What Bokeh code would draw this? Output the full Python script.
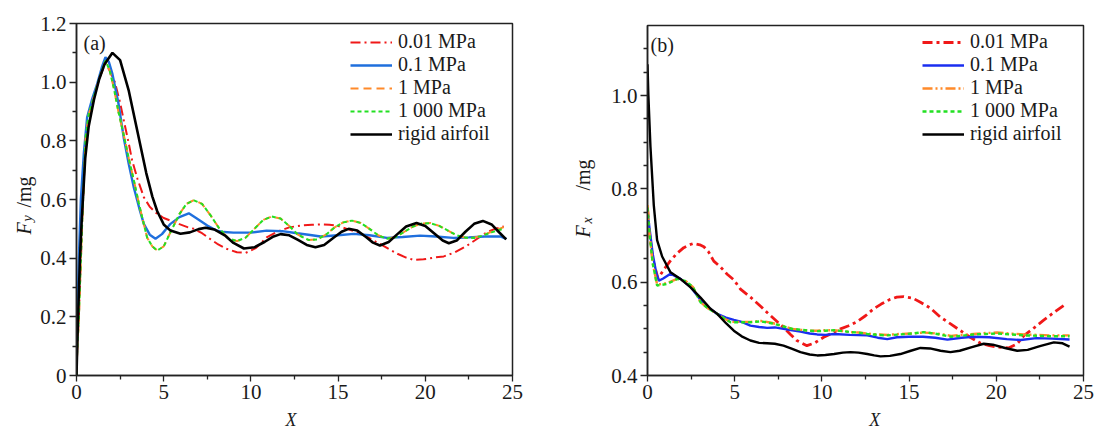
from bokeh.plotting import figure
from bokeh.models import Range1d, FixedTicker, Legend, LegendItem, Label
from bokeh.layouts import row, column
from bokeh.embed import file_html
from bokeh.resources import INLINE

# ---------------- data: panel (a)  F_y / mg ----------------
labels = ["0.01 MPa", "0.1 MPa", "1 MPa", "1 000 MPa", "rigid airfoil"]

a_x_001 = [0, 0.05, 0.13, 0.33, 0.52, 0.7, 0.9, 1.09, 1.35, 1.65, 1.9, 2.2, 2.5, 2.71, 3.0, 3.19, 3.5, 3.86, 4.2, 4.63,
           5.0, 5.39, 5.9, 6.4, 6.73, 7.2, 7.6, 8.07, 8.6, 9.2, 9.7, 10.3, 10.93, 11.5, 12.2, 12.84, 13.5, 14.0, 14.5,
           15.0, 15.5, 16.0, 16.6, 17.2, 17.8, 18.4, 18.9, 19.34, 19.9, 20.5, 21.06, 21.7, 22.4, 23.0, 23.55, 24.0, 24.5]
a_y_001 = [0, 0.1, 0.19, 0.53, 0.81, 0.89, 0.93, 0.97, 1.02, 1.063, 1.04, 1.0, 0.93, 0.87, 0.79, 0.733, 0.67, 0.608,
           0.575, 0.551, 0.537, 0.528, 0.516, 0.505, 0.5, 0.485, 0.468, 0.449, 0.432, 0.42, 0.418, 0.435, 0.472, 0.49,
           0.505, 0.511, 0.514, 0.515, 0.514, 0.51, 0.5, 0.49, 0.475, 0.455, 0.435, 0.415, 0.402, 0.394, 0.396, 0.402,
           0.406, 0.42, 0.443, 0.467, 0.489, 0.5, 0.508]

a_x_01 = [0, 0.05, 0.13, 0.25, 0.42, 0.61, 0.9, 1.19, 1.45, 1.66, 1.85, 2.05, 2.4, 2.71, 3.0, 3.29, 3.6, 3.86, 4.2, 4.53,
          4.9, 5.39, 5.9, 6.44, 6.9, 7.5, 8.0, 8.45, 9.0, 10.0, 10.9, 11.8, 12.65, 13.3, 14.0, 15.0, 15.9, 16.8, 17.8,
          18.7, 19.7, 20.6, 21.6, 22.5, 23.4, 24.3, 24.64]
a_y_01 = [0, 0.2, 0.39, 0.6, 0.757, 0.88, 0.943, 0.995, 1.05, 1.085, 1.07, 1.03, 0.93, 0.81, 0.72, 0.64, 0.57, 0.517,
          0.48, 0.466, 0.482, 0.517, 0.54, 0.553, 0.535, 0.511, 0.495, 0.489, 0.487, 0.487, 0.494, 0.492, 0.485, 0.48,
          0.474, 0.478, 0.483, 0.478, 0.469, 0.472, 0.477, 0.474, 0.469, 0.471, 0.474, 0.474, 0.466]

a_x_1 = [0, 0.05, 0.13, 0.33, 0.52, 0.7, 0.9, 1.09, 1.35, 1.66, 1.9, 2.14, 2.4, 2.71, 3.0, 3.29, 3.6, 4.05, 4.35, 4.63,
         5.0, 5.4, 5.9, 6.3, 6.73, 7.2, 7.7, 8.2, 8.7, 9.2, 9.7, 10.2, 10.7, 11.2, 11.7, 12.2, 12.7, 13.3, 13.8, 14.3,
         14.8, 15.3, 15.8, 16.3, 16.8, 17.3, 17.8, 18.3, 18.8, 19.3, 19.8, 20.3, 20.8, 21.3, 21.8, 22.3, 22.8, 23.3,
         23.8, 24.5]
a_y_1 = [0, 0.1, 0.19, 0.53, 0.81, 0.89, 0.93, 0.97, 1.02, 1.072, 1.04, 0.98, 0.9, 0.82, 0.74, 0.665, 0.58, 0.47, 0.44,
         0.426, 0.44, 0.49, 0.55, 0.585, 0.598, 0.585, 0.545, 0.5, 0.468, 0.458, 0.47, 0.5, 0.53, 0.542, 0.535, 0.51,
         0.48, 0.462, 0.464, 0.48, 0.505, 0.522, 0.528, 0.52, 0.5, 0.478, 0.466, 0.472, 0.49, 0.508, 0.518, 0.52, 0.51,
         0.494, 0.478, 0.47, 0.47, 0.478, 0.49, 0.506]

a_x_1000 = [0, 0.05, 0.13, 0.33, 0.52, 0.7, 0.9, 1.09, 1.35, 1.66, 1.9, 2.14, 2.4, 2.71, 3.0, 3.29, 3.6, 4.05, 4.35, 4.63,
            5.0, 5.4, 5.9, 6.3, 6.73, 7.2, 7.7, 8.2, 8.7, 9.2, 9.7, 10.2, 10.7, 11.2, 11.7, 12.2, 12.7, 13.3, 13.8, 14.3,
            14.8, 15.3, 15.8, 16.3, 16.8, 17.3, 17.8, 18.3, 18.8, 19.3, 19.8, 20.3, 20.8, 21.3, 21.8, 22.3, 22.8, 23.3,
            23.8, 24.47]
a_y_1000 = [0, 0.1, 0.19, 0.53, 0.81, 0.89, 0.93, 0.97, 1.02, 1.074, 1.04, 0.98, 0.9, 0.82, 0.74, 0.665, 0.58, 0.47,
            0.44, 0.426, 0.44, 0.49, 0.55, 0.585, 0.597, 0.585, 0.545, 0.5, 0.468, 0.458, 0.47, 0.5, 0.53, 0.542, 0.535,
            0.51, 0.48, 0.462, 0.464, 0.48, 0.505, 0.522, 0.528, 0.52, 0.5, 0.478, 0.466, 0.472, 0.49, 0.508, 0.518,
            0.519, 0.51, 0.494, 0.478, 0.47, 0.469, 0.477, 0.488, 0.5]

a_x_rigid = [0, 0.05, 0.1, 0.2, 0.3, 0.5, 0.7, 1.0, 1.3, 1.6, 2.06, 2.5, 3.0, 3.5, 4.0, 4.35, 4.63, 5.0, 5.39, 5.96,
             6.5, 7.0, 7.4, 7.9, 8.5, 9.0, 9.6, 10.2, 10.8, 11.3, 11.7, 12.2, 12.7, 13.2, 13.7, 14.2, 14.7, 15.2, 15.6,
             16.1, 16.6, 17.0, 17.4, 17.9, 18.4, 18.9, 19.5, 20.0, 20.5, 21.0, 21.35, 21.8, 22.3, 22.8, 23.3, 23.8,
             24.2, 24.64]
a_y_rigid = [0, 0.12, 0.22, 0.4, 0.53, 0.74, 0.85, 0.94, 1.01, 1.06, 1.10, 1.075, 0.97, 0.83, 0.69, 0.61, 0.56, 0.515,
             0.494, 0.483, 0.488, 0.499, 0.504, 0.498, 0.478, 0.452, 0.433, 0.437, 0.456, 0.474, 0.482, 0.478, 0.462,
             0.445, 0.437, 0.445, 0.468, 0.49, 0.5, 0.494, 0.472, 0.453, 0.443, 0.455, 0.482, 0.508, 0.52, 0.51, 0.485,
             0.46, 0.451, 0.46, 0.49, 0.517, 0.527, 0.515, 0.49, 0.464]

# ---------------- data: panel (b)  F_x / mg ----------------
b_x_001 = [0, 0.1, 0.3, 0.6, 0.9, 1.32, 1.7, 2.08, 2.4, 2.65, 3.0, 3.23, 3.5, 3.8, 4.2, 4.57, 4.95, 5.33, 5.9, 6.5,
           6.86, 7.3, 7.8, 8.2, 8.56, 9.14, 9.6, 10.1, 10.6, 11.07, 11.5, 12.0, 12.5, 12.97, 13.4, 13.9, 14.3, 14.7,
           15.2, 15.65, 16.2, 16.8, 17.4, 17.95, 18.5, 19.1, 19.6, 20.05, 20.7, 21.2, 21.6, 22.1, 22.7, 23.3, 23.97]
b_y_001 = [0.76, 0.71, 0.65, 0.608, 0.625, 0.646, 0.662, 0.674, 0.68, 0.683, 0.68, 0.676, 0.665, 0.645, 0.632, 0.617,
           0.605, 0.585, 0.568, 0.548, 0.535, 0.52, 0.503, 0.488, 0.475, 0.464, 0.47, 0.482, 0.491, 0.5, 0.506, 0.515,
           0.528, 0.543, 0.553, 0.563, 0.568, 0.569, 0.566, 0.557, 0.545, 0.525, 0.51, 0.496, 0.482, 0.469, 0.464,
           0.461, 0.459, 0.468, 0.486, 0.5, 0.518, 0.535, 0.553]

b_x_01 = [0, 0.1, 0.3, 0.5, 0.65, 0.9, 1.32, 1.89, 2.47, 3.04, 3.5, 4.0, 4.5, 4.95, 5.4, 5.9, 6.4, 6.86, 7.3, 7.8, 8.3,
          8.77, 9.3, 9.73, 10.2, 10.7, 11.6, 12.6, 13.2, 13.75, 14.3, 15.0, 15.8, 16.5, 17.2, 18.0, 18.7, 19.6, 20.6,
          21.4, 22.3, 23.2, 24.2]
b_y_01 = [0.75, 0.72, 0.66, 0.62, 0.603, 0.608, 0.618, 0.607, 0.59, 0.562, 0.545, 0.532, 0.524, 0.519, 0.515, 0.507,
          0.504, 0.502, 0.503, 0.5, 0.497, 0.494, 0.49, 0.488, 0.487, 0.489, 0.487, 0.486, 0.481, 0.478, 0.482, 0.483,
          0.483, 0.481, 0.477, 0.481, 0.483, 0.482, 0.478, 0.476, 0.48, 0.479, 0.477]

b_x_1 = [0, 0.1, 0.3, 0.55, 0.8, 1.13, 1.7, 2.2, 2.6, 3.04, 3.5, 4.0, 4.4, 4.76, 5.3, 5.9, 6.5, 7.1, 7.8, 8.3, 8.77,
         9.3, 9.73, 10.2, 10.7, 11.2, 11.64, 12.1, 12.6, 13.2, 13.75, 14.5, 15.2, 15.84, 16.6, 17.4, 18.0, 18.7, 19.4,
         20.05, 20.8, 21.6, 22.4, 23.1, 24.2]
b_y_1 = [0.765, 0.71, 0.64, 0.595, 0.596, 0.598, 0.607, 0.602, 0.59, 0.557, 0.543, 0.532, 0.522, 0.515, 0.515, 0.515,
         0.517, 0.513, 0.506, 0.5, 0.498, 0.496, 0.496, 0.497, 0.497, 0.495, 0.493, 0.492, 0.49, 0.488, 0.487, 0.489,
         0.49, 0.492, 0.49, 0.485, 0.487, 0.489, 0.491, 0.492, 0.49, 0.488, 0.487, 0.486, 0.486]

b_x_1000 = [0, 0.1, 0.3, 0.55, 0.8, 1.13, 1.7, 2.2, 2.6, 3.04, 3.5, 4.0, 4.4, 4.76, 5.3, 5.9, 6.5, 7.1, 7.8, 8.3, 8.77,
            9.3, 9.73, 10.2, 10.7, 11.2, 11.64, 12.1, 12.6, 13.2, 13.75, 14.5, 15.2, 15.84, 16.6, 17.4, 18.0, 18.7,
            19.4, 20.05, 20.8, 21.6, 22.4, 23.1, 24.2]
b_y_1000 = [0.76, 0.71, 0.64, 0.593, 0.594, 0.596, 0.607, 0.602, 0.59, 0.557, 0.543, 0.532, 0.522, 0.514, 0.514, 0.514,
            0.516, 0.512, 0.505, 0.5, 0.498, 0.496, 0.495, 0.496, 0.497, 0.495, 0.493, 0.492, 0.489, 0.487, 0.486,
            0.488, 0.49, 0.493, 0.489, 0.483, 0.485, 0.488, 0.489, 0.49, 0.488, 0.486, 0.485, 0.484, 0.484]

b_x_rigid = [0, 0.05, 0.17, 0.36, 0.55, 0.84, 1.32, 1.89, 2.47, 3.04, 3.61, 4.0, 4.5, 4.95, 5.4, 5.9, 6.4, 6.86, 7.3,
             7.8, 8.3, 8.77, 9.3, 9.73, 10.2, 10.7, 11.2, 11.64, 12.1, 12.6, 13.0, 13.36, 13.9, 14.5, 15.1, 15.65, 16.2,
             16.8, 17.37, 17.9, 18.6, 19.28, 19.8, 20.5, 21.2, 21.8, 22.5, 23.3, 23.8, 24.2]
b_y_rigid = [1.067, 1.0, 0.89, 0.765, 0.69, 0.655, 0.621, 0.607, 0.589, 0.567, 0.543, 0.532, 0.512, 0.496, 0.484,
             0.475, 0.47, 0.469, 0.468, 0.464, 0.457, 0.45, 0.445, 0.443, 0.444, 0.446, 0.449, 0.45, 0.449, 0.446,
             0.443, 0.441, 0.442, 0.446, 0.453, 0.459, 0.458, 0.453, 0.45, 0.453, 0.461, 0.468, 0.466, 0.459, 0.453,
             0.455, 0.463, 0.471, 0.469, 0.462]

a_yticks = [0, 0.2, 0.4, 0.6, 0.8, 1.0, 1.2]
b_yticks = [0.4, 0.6, 0.8, 1.0]
x_ticks = [0, 5, 10, 15, 20, 25]

# ---------------- styling / layout ----------------
SERIF = "Liberation Serif"
TXT = "#1a1a1a"
RED, ORANGE, GREEN, BLACK = "#f01818", "#ff8a2a", "#22e022", "#000000"
BLUE_A, BLUE_B = "#1f6fdd", "#1a2ef0"

H_MAIN, H_XLAB = 408, 22           # plot strip + x-label strip (total 430)
YA_W, YB_W = 37, 55                # y-label strips
PA_W, PB_W = 508, 495              # 37 + 508 + 55 + 495 = 1095
SH = 6                             # label baseline correction (px)


def make_fig(width, l, r, t, b, y0, y1, yticks, yminor):
    p = figure(width=width, height=H_MAIN, output_backend="svg", toolbar_location=None,
               x_range=Range1d(0, 25), y_range=Range1d(y0, y1),
               min_border_left=l, min_border_right=r, min_border_top=t, min_border_bottom=b)
    p.xgrid.visible = False
    p.ygrid.visible = False
    p.outline_line_color = "#222222"
    p.outline_line_width = 1.5
    p.background_fill_color = "white"
    p.border_fill_color = "white"
    p.xaxis.ticker = FixedTicker(ticks=x_ticks, minor_ticks=[2.5 + 5 * i for i in range(5)])
    p.yaxis.ticker = FixedTicker(ticks=yticks, minor_ticks=yminor)
    for ax in (p.xaxis[0], p.yaxis[0]):
        ax.axis_line_color = "#222222"
        ax.axis_line_width = 1.5
        ax.major_tick_line_color = "#222222"
        ax.minor_tick_line_color = "#222222"
        ax.major_tick_line_width = 1.3
        ax.minor_tick_line_width = 1.3
        ax.major_tick_in = 0
        ax.major_tick_out = 7
        ax.minor_tick_in = 0
        ax.minor_tick_out = 4
        ax.major_label_text_font = SERIF
        ax.major_label_text_font_size = "21px"
        ax.major_label_text_color = TXT
    p.xaxis.major_tick_out = 6
    p.xaxis.major_label_standoff = 3
    p.yaxis.major_label_standoff = 3
    return p


def strip(width, height, x0, x1, ytop, ybot):
    # blank figure whose data space equals page pixels; holds the axis titles as text
    s = figure(width=width, height=height, output_backend="svg", toolbar_location=None,
               x_range=Range1d(x0, x1), y_range=Range1d(ybot, ytop),
               x_axis_location=None, y_axis_location=None, min_border=0)
    s.xgrid.visible = False
    s.ygrid.visible = False
    s.outline_line_color = None
    s.background_fill_color = "white"
    s.border_fill_color = "white"
    return s


def add_text(p, x, y, text, size="20px", style="normal", angle=0, align="left", baseline="alphabetic"):
    p.add_layout(Label(x=x, y=y, text=text, text_font=SERIF, text_font_size=size, text_font_style=style,
                       angle=angle, text_align=align, text_baseline=baseline, text_color=TXT))


# frames: (a) x 76..512, y 23..375 ; (b) x 647..1083, y 25..375
pa = make_fig(PA_W, 76 - YA_W, 33, 23, H_MAIN - 375, 0, 1.2, a_yticks, [0.1, 0.3, 0.5, 0.7, 0.9, 1.1])
pa.yaxis.major_label_overrides = {0: "0", 0.2: "0.2", 0.4: "0.4", 0.6: "0.6", 0.8: "0.8", 1.0: "1.0", 1.2: "1.2"}
pb = make_fig(PB_W, 647 - (YA_W + PA_W + YB_W), 12, 25, H_MAIN - 375, 0.4, 1.15, b_yticks,
              [0.45, 0.5, 0.55, 0.65, 0.7, 0.75, 0.85, 0.9, 0.95, 1.05, 1.1])
pb.yaxis.major_label_overrides = {0.4: "0.4", 0.6: "0.6", 0.8: "0.8", 1.0: "1.0"}

ra = [
    pa.line(a_x_001, a_y_001, line_color=RED, line_width=2, line_dash="10 4 2 4"),
    pa.line(a_x_01, a_y_01, line_color=BLUE_A, line_width=2.4),
    pa.line(a_x_1, a_y_1, line_color=ORANGE, line_width=2, line_dash="8 5"),
    pa.line(a_x_1000, a_y_1000, line_color=GREEN, line_width=2, line_dash="4 3"),
    pa.line(a_x_rigid, a_y_rigid, line_color=BLACK, line_width=2.6),
]
rb = [
    pb.line(b_x_001, b_y_001, line_color=RED, line_width=2.8, line_dash="10 4 3 4"),
    pb.line(b_x_01, b_y_01, line_color=BLUE_B, line_width=2.4),
    pb.line(b_x_1, b_y_1, line_color=ORANGE, line_width=2.4, line_dash="10 3 2 3 2 3"),
    pb.line(b_x_1000, b_y_1000, line_color=GREEN, line_width=2.4, line_dash="4 3"),
    pb.line(b_x_rigid, b_y_rigid, line_color=BLACK, line_width=2.4),
]

for p, rends, loc in ((pa, ra, (274, 230)), (pb, rb, (275, 230))):
    leg = Legend(items=[LegendItem(label=lab, renderers=[r]) for lab, r in zip(labels, rends)],
                 location=loc, padding=0, margin=0, spacing=0,
                 border_line_color=None, background_fill_alpha=0,
                 glyph_width=42, glyph_height=22, label_height=22, label_standoff=6,
                 label_text_font=SERIF, label_text_font_size="20px", label_text_color=TXT)
    p.add_layout(leg)

# panel tags
add_text(pa, (83 - 76) / 436 * 25, (375 - (48 - SH)) / 352 * 1.2, "(a)")
add_text(pb, (650 - 647) / 436 * 25, 0.4 + (375 - (50 - SH)) / 350 * 0.75, "(b)")

# y-label strips (data = page pixels)
ANG = 1.5707963
x_off_b = YA_W + PA_W
ya = strip(YA_W, 430, 0, YA_W, 0, 430)
add_text(ya, 29 - SH, 234, "F", style="italic", angle=ANG)
add_text(ya, 27, 221, "y", size="14px", style="italic", angle=ANG)
add_text(ya, 29 - SH, 207, "/mg", angle=ANG)

yb = strip(YB_W, 430, x_off_b, x_off_b + YB_W, 0, 430)
add_text(yb, 588 - SH, 237, "F", style="italic", angle=ANG)
add_text(yb, 587, 223, "x", size="14px", style="italic", angle=ANG)
add_text(yb, 588 - SH, 190, "/mg", angle=ANG)

# x-label strips
xa = strip(PA_W, H_XLAB, YA_W, YA_W + PA_W, H_MAIN, 430)
add_text(xa, 287, 419.5, "X", size="18px", style="italic", align="center", baseline="middle")
xb = strip(PB_W, H_XLAB, x_off_b + YB_W, 1095, H_MAIN, 430)
add_text(xb, 858, 419.5, "X", size="18px", style="italic", align="center", baseline="middle")

layout = row(ya, column(pa, xa), yb, column(pb, xb))
open("out.html", "w").write(file_html(layout, INLINE))
